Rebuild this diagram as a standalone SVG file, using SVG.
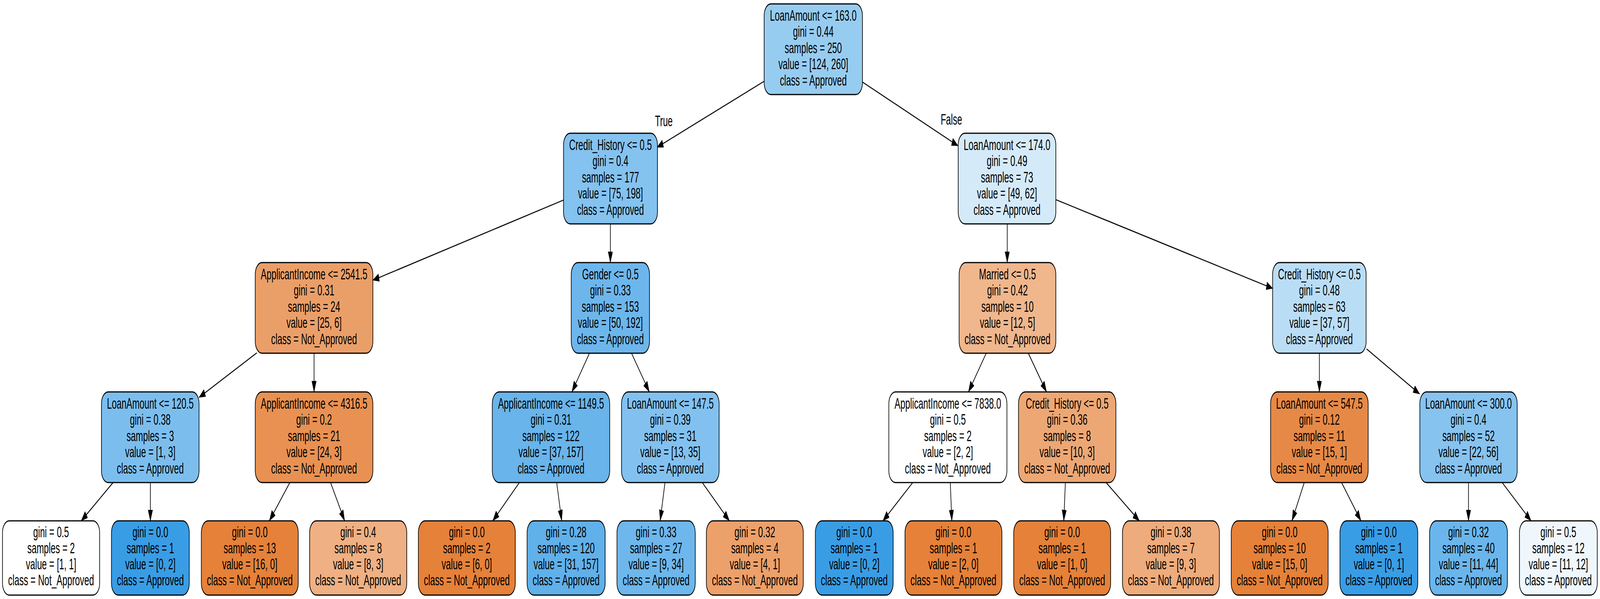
<svg xmlns="http://www.w3.org/2000/svg" width="7033" height="1533" viewBox="0 0 7033 1533" preserveAspectRatio="none">
<style>
svg:root{width:100vw;height:100vh}
.bg{fill:#ffffff}
.n rect{stroke:#000;stroke-width:2.8}
.t{font-family:"Liberation Sans",Arial,Helvetica,sans-serif;font-size:38.5px;text-anchor:middle;fill:#000}
.e line{stroke:#000;stroke-width:2.8;fill:none}
</style>
<defs>
<marker id="ah" markerUnits="userSpaceOnUse" markerWidth="30" markerHeight="22" refX="28" refY="10" orient="auto" viewBox="0 0 30 22">
<path d="M0,0 L28,10 L0,20 z" fill="#000" stroke="#000" stroke-width="1"/>
</marker>
</defs>
<rect class="bg" x="0" y="0" width="7033" height="1533"/>
<g id="edges" class="e">
<line x1="3359" y1="208" x2="2888" y2="377" marker-end="url(#ah)"/>
<line x1="3791" y1="210" x2="4211" y2="373" marker-end="url(#ah)"/>
<line x1="2477" y1="512" x2="1639" y2="717" marker-end="url(#ah)"/>
<line x1="2683" y1="573" x2="2683" y2="672" marker-end="url(#ah)"/>
<line x1="4427.5" y1="573" x2="4427.5" y2="672" marker-end="url(#ah)"/>
<line x1="4641" y1="511" x2="5594" y2="738" marker-end="url(#ah)"/>
<line x1="1129" y1="903" x2="875" y2="1017" marker-end="url(#ah)"/>
<line x1="1380.5" y1="904" x2="1380.5" y2="1003" marker-end="url(#ah)"/>
<line x1="2591" y1="904" x2="2514" y2="1003" marker-end="url(#ah)"/>
<line x1="2776" y1="904" x2="2854" y2="1003" marker-end="url(#ah)"/>
<line x1="4335" y1="904" x2="4257" y2="1003" marker-end="url(#ah)"/>
<line x1="4520" y1="904" x2="4600" y2="1003" marker-end="url(#ah)"/>
<line x1="5799.5" y1="904" x2="5799.5" y2="1003" marker-end="url(#ah)"/>
<line x1="6007" y1="893" x2="6240" y2="1008" marker-end="url(#ah)"/>
<line x1="497" y1="1235" x2="357" y2="1333" marker-end="url(#ah)"/>
<line x1="661" y1="1235" x2="661" y2="1333" marker-end="url(#ah)"/>
<line x1="1274" y1="1235" x2="1184" y2="1333" marker-end="url(#ah)"/>
<line x1="1453" y1="1235" x2="1515" y2="1333" marker-end="url(#ah)"/>
<line x1="2283" y1="1235" x2="2166" y2="1333" marker-end="url(#ah)"/>
<line x1="2447" y1="1235" x2="2469" y2="1333" marker-end="url(#ah)"/>
<line x1="2923" y1="1235" x2="2902" y2="1333" marker-end="url(#ah)"/>
<line x1="3087" y1="1235" x2="3206" y2="1333" marker-end="url(#ah)"/>
<line x1="4012" y1="1235" x2="3881" y2="1333" marker-end="url(#ah)"/>
<line x1="4177" y1="1235" x2="4184" y2="1333" marker-end="url(#ah)"/>
<line x1="4683" y1="1235" x2="4676" y2="1333" marker-end="url(#ah)"/>
<line x1="4862" y1="1235" x2="5008" y2="1333" marker-end="url(#ah)"/>
<line x1="5733" y1="1235" x2="5679" y2="1333" marker-end="url(#ah)"/>
<line x1="5897" y1="1235" x2="5982" y2="1333" marker-end="url(#ah)"/>
<line x1="6455" y1="1235" x2="6455" y2="1333" marker-end="url(#ah)"/>
<line x1="6603" y1="1235" x2="6730" y2="1333" marker-end="url(#ah)"/>
<text class="t" x="2918" y="323">True</text>
<text class="t" x="4182" y="319">False</text>
</g>

<g id="n0" class="n"><rect x="3359" y="10" width="432" height="232" rx="30" fill="#97ccf1"/>
<text class="t" y="53"><tspan x="3575">LoanAmount &lt;= 163.0</tspan><tspan x="3575" dy="41.5">gini = 0.44</tspan><tspan x="3575" dy="41.5">samples = 250</tspan><tspan x="3575" dy="41.5">value = [124, 260]</tspan><tspan x="3575" dy="41.5">class = Approved</tspan></text></g>

<g id="n1" class="n"><rect x="2477" y="341" width="413" height="232" rx="30" fill="#84c2ef"/>
<text class="t" y="384"><tspan x="2683.5">Credit_History &lt;= 0.5</tspan><tspan x="2683.5" dy="41.5">gini = 0.4</tspan><tspan x="2683.5" dy="41.5">samples = 177</tspan><tspan x="2683.5" dy="41.5">value = [75, 198]</tspan><tspan x="2683.5" dy="41.5">class = Approved</tspan></text></g>

<g id="n2" class="n"><rect x="4212" y="341" width="429" height="232" rx="30" fill="#d5eaf9"/>
<text class="t" y="384"><tspan x="4426.5">LoanAmount &lt;= 174.0</tspan><tspan x="4426.5" dy="41.5">gini = 0.49</tspan><tspan x="4426.5" dy="41.5">samples = 73</tspan><tspan x="4426.5" dy="41.5">value = [49, 62]</tspan><tspan x="4426.5" dy="41.5">class = Approved</tspan></text></g>

<g id="n3" class="n"><rect x="1122" y="672" width="517" height="232" rx="30" fill="#eb9f68"/>
<text class="t" y="715"><tspan x="1380.5">ApplicantIncome &lt;= 2541.5</tspan><tspan x="1380.5" dy="41.5">gini = 0.31</tspan><tspan x="1380.5" dy="41.5">samples = 24</tspan><tspan x="1380.5" dy="41.5">value = [25, 6]</tspan><tspan x="1380.5" dy="41.5">class = Not_Approved</tspan></text></g>

<g id="n4" class="n"><rect x="2511" y="672" width="344" height="232" rx="30" fill="#6db6ec"/>
<text class="t" y="715"><tspan x="2683">Gender &lt;= 0.5</tspan><tspan x="2683" dy="41.5">gini = 0.33</tspan><tspan x="2683" dy="41.5">samples = 153</tspan><tspan x="2683" dy="41.5">value = [50, 192]</tspan><tspan x="2683" dy="41.5">class = Approved</tspan></text></g>

<g id="n5" class="n"><rect x="4216" y="672" width="425" height="232" rx="30" fill="#f0b68c"/>
<text class="t" y="715"><tspan x="4428.5">Married &lt;= 0.5</tspan><tspan x="4428.5" dy="41.5">gini = 0.42</tspan><tspan x="4428.5" dy="41.5">samples = 10</tspan><tspan x="4428.5" dy="41.5">value = [12, 5]</tspan><tspan x="4428.5" dy="41.5">class = Not_Approved</tspan></text></g>

<g id="n6" class="n"><rect x="5594" y="672" width="411" height="232" rx="30" fill="#baddf6"/>
<text class="t" y="715"><tspan x="5799.5">Credit_History &lt;= 0.5</tspan><tspan x="5799.5" dy="41.5">gini = 0.48</tspan><tspan x="5799.5" dy="41.5">samples = 63</tspan><tspan x="5799.5" dy="41.5">value = [37, 57]</tspan><tspan x="5799.5" dy="41.5">class = Approved</tspan></text></g>

<g id="n7" class="n"><rect x="446" y="1003" width="429" height="232" rx="30" fill="#7bbeee"/>
<text class="t" y="1046"><tspan x="660.5">LoanAmount &lt;= 120.5</tspan><tspan x="660.5" dy="41.5">gini = 0.38</tspan><tspan x="660.5" dy="41.5">samples = 3</tspan><tspan x="660.5" dy="41.5">value = [1, 3]</tspan><tspan x="660.5" dy="41.5">class = Approved</tspan></text></g>

<g id="n8" class="n"><rect x="1122" y="1003" width="517" height="232" rx="30" fill="#e89152"/>
<text class="t" y="1046"><tspan x="1380.5">ApplicantIncome &lt;= 4316.5</tspan><tspan x="1380.5" dy="41.5">gini = 0.2</tspan><tspan x="1380.5" dy="41.5">samples = 21</tspan><tspan x="1380.5" dy="41.5">value = [24, 3]</tspan><tspan x="1380.5" dy="41.5">class = Not_Approved</tspan></text></g>

<g id="n9" class="n"><rect x="2164" y="1003" width="516" height="232" rx="30" fill="#68b4eb"/>
<text class="t" y="1046"><tspan x="2422">ApplicantIncome &lt;= 1149.5</tspan><tspan x="2422" dy="41.5">gini = 0.31</tspan><tspan x="2422" dy="41.5">samples = 122</tspan><tspan x="2422" dy="41.5">value = [37, 157]</tspan><tspan x="2422" dy="41.5">class = Approved</tspan></text></g>

<g id="n10" class="n"><rect x="2732" y="1003" width="429" height="232" rx="30" fill="#82c1ef"/>
<text class="t" y="1046"><tspan x="2946.5">LoanAmount &lt;= 147.5</tspan><tspan x="2946.5" dy="41.5">gini = 0.39</tspan><tspan x="2946.5" dy="41.5">samples = 31</tspan><tspan x="2946.5" dy="41.5">value = [13, 35]</tspan><tspan x="2946.5" dy="41.5">class = Approved</tspan></text></g>

<g id="n11" class="n"><rect x="3907" y="1003" width="519" height="232" rx="30" fill="#ffffff"/>
<text class="t" y="1046"><tspan x="4166.5">ApplicantIncome &lt;= 7838.0</tspan><tspan x="4166.5" dy="41.5">gini = 0.5</tspan><tspan x="4166.5" dy="41.5">samples = 2</tspan><tspan x="4166.5" dy="41.5">value = [2, 2]</tspan><tspan x="4166.5" dy="41.5">class = Not_Approved</tspan></text></g>

<g id="n12" class="n"><rect x="4477" y="1003" width="428" height="232" rx="30" fill="#eda774"/>
<text class="t" y="1046"><tspan x="4691">Credit_History &lt;= 0.5</tspan><tspan x="4691" dy="41.5">gini = 0.36</tspan><tspan x="4691" dy="41.5">samples = 8</tspan><tspan x="4691" dy="41.5">value = [10, 3]</tspan><tspan x="4691" dy="41.5">class = Not_Approved</tspan></text></g>

<g id="n13" class="n"><rect x="5585" y="1003" width="429" height="232" rx="30" fill="#e78946"/>
<text class="t" y="1046"><tspan x="5799.5">LoanAmount &lt;= 547.5</tspan><tspan x="5799.5" dy="41.5">gini = 0.12</tspan><tspan x="5799.5" dy="41.5">samples = 11</tspan><tspan x="5799.5" dy="41.5">value = [15, 1]</tspan><tspan x="5799.5" dy="41.5">class = Not_Approved</tspan></text></g>

<g id="n14" class="n"><rect x="6241" y="1003" width="428" height="232" rx="30" fill="#87c3ef"/>
<text class="t" y="1046"><tspan x="6455">LoanAmount &lt;= 300.0</tspan><tspan x="6455" dy="41.5">gini = 0.4</tspan><tspan x="6455" dy="41.5">samples = 52</tspan><tspan x="6455" dy="41.5">value = [22, 56]</tspan><tspan x="6455" dy="41.5">class = Approved</tspan></text></g>

<g id="l1" class="n"><rect x="11" y="1333" width="427" height="190" rx="30" fill="#ffffff"/>
<text class="t" y="1375"><tspan x="224.5">gini = 0.5</tspan><tspan x="224.5" dy="41">samples = 2</tspan><tspan x="224.5" dy="41">value = [1, 1]</tspan><tspan x="224.5" dy="41">class = Not_Approved</tspan></text></g>

<g id="l2" class="n"><rect x="490" y="1333" width="342" height="190" rx="30" fill="#399de5"/>
<text class="t" y="1375"><tspan x="661">gini = 0.0</tspan><tspan x="661" dy="41">samples = 1</tspan><tspan x="661" dy="41">value = [0, 2]</tspan><tspan x="661" dy="41">class = Approved</tspan></text></g>

<g id="l3" class="n"><rect x="885" y="1333" width="426" height="190" rx="30" fill="#e58139"/>
<text class="t" y="1375"><tspan x="1098">gini = 0.0</tspan><tspan x="1098" dy="41">samples = 13</tspan><tspan x="1098" dy="41">value = [16, 0]</tspan><tspan x="1098" dy="41">class = Not_Approved</tspan></text></g>

<g id="l4" class="n"><rect x="1361" y="1333" width="427" height="190" rx="30" fill="#efb083"/>
<text class="t" y="1375"><tspan x="1574.5">gini = 0.4</tspan><tspan x="1574.5" dy="41">samples = 8</tspan><tspan x="1574.5" dy="41">value = [8, 3]</tspan><tspan x="1574.5" dy="41">class = Not_Approved</tspan></text></g>

<g id="l5" class="n"><rect x="1839" y="1333" width="426" height="190" rx="30" fill="#e58139"/>
<text class="t" y="1375"><tspan x="2052">gini = 0.0</tspan><tspan x="2052" dy="41">samples = 2</tspan><tspan x="2052" dy="41">value = [6, 0]</tspan><tspan x="2052" dy="41">class = Not_Approved</tspan></text></g>

<g id="l6" class="n"><rect x="2317" y="1333" width="343" height="190" rx="30" fill="#60b0ea"/>
<text class="t" y="1375"><tspan x="2488.5">gini = 0.28</tspan><tspan x="2488.5" dy="41">samples = 120</tspan><tspan x="2488.5" dy="41">value = [31, 157]</tspan><tspan x="2488.5" dy="41">class = Approved</tspan></text></g>

<g id="l7" class="n"><rect x="2712" y="1333" width="344" height="190" rx="30" fill="#6db7ec"/>
<text class="t" y="1375"><tspan x="2884">gini = 0.33</tspan><tspan x="2884" dy="41">samples = 27</tspan><tspan x="2884" dy="41">value = [9, 34]</tspan><tspan x="2884" dy="41">class = Approved</tspan></text></g>

<g id="l8" class="n"><rect x="3105" y="1333" width="426" height="190" rx="30" fill="#eca06a"/>
<text class="t" y="1375"><tspan x="3318">gini = 0.32</tspan><tspan x="3318" dy="41">samples = 4</tspan><tspan x="3318" dy="41">value = [4, 1]</tspan><tspan x="3318" dy="41">class = Not_Approved</tspan></text></g>

<g id="l9" class="n"><rect x="3584" y="1333" width="342" height="190" rx="30" fill="#399de5"/>
<text class="t" y="1375"><tspan x="3755">gini = 0.0</tspan><tspan x="3755" dy="41">samples = 1</tspan><tspan x="3755" dy="41">value = [0, 2]</tspan><tspan x="3755" dy="41">class = Approved</tspan></text></g>

<g id="l10" class="n"><rect x="3978" y="1333" width="426" height="190" rx="30" fill="#e58139"/>
<text class="t" y="1375"><tspan x="4191">gini = 0.0</tspan><tspan x="4191" dy="41">samples = 1</tspan><tspan x="4191" dy="41">value = [2, 0]</tspan><tspan x="4191" dy="41">class = Not_Approved</tspan></text></g>

<g id="l11" class="n"><rect x="4456" y="1333" width="426" height="190" rx="30" fill="#e58139"/>
<text class="t" y="1375"><tspan x="4669">gini = 0.0</tspan><tspan x="4669" dy="41">samples = 1</tspan><tspan x="4669" dy="41">value = [1, 0]</tspan><tspan x="4669" dy="41">class = Not_Approved</tspan></text></g>

<g id="l12" class="n"><rect x="4934" y="1333" width="426" height="190" rx="30" fill="#eeab7b"/>
<text class="t" y="1375"><tspan x="5147">gini = 0.38</tspan><tspan x="5147" dy="41">samples = 7</tspan><tspan x="5147" dy="41">value = [9, 3]</tspan><tspan x="5147" dy="41">class = Not_Approved</tspan></text></g>

<g id="l13" class="n"><rect x="5412" y="1333" width="426" height="190" rx="30" fill="#e58139"/>
<text class="t" y="1375"><tspan x="5625">gini = 0.0</tspan><tspan x="5625" dy="41">samples = 10</tspan><tspan x="5625" dy="41">value = [15, 0]</tspan><tspan x="5625" dy="41">class = Not_Approved</tspan></text></g>

<g id="l14" class="n"><rect x="5890" y="1333" width="342" height="190" rx="30" fill="#399de5"/>
<text class="t" y="1375"><tspan x="6061">gini = 0.0</tspan><tspan x="6061" dy="41">samples = 1</tspan><tspan x="6061" dy="41">value = [0, 1]</tspan><tspan x="6061" dy="41">class = Approved</tspan></text></g>

<g id="l15" class="n"><rect x="6284" y="1333" width="342" height="190" rx="30" fill="#6ab6ec"/>
<text class="t" y="1375"><tspan x="6455">gini = 0.32</tspan><tspan x="6455" dy="41">samples = 40</tspan><tspan x="6455" dy="41">value = [11, 44]</tspan><tspan x="6455" dy="41">class = Approved</tspan></text></g>

<g id="l16" class="n"><rect x="6679" y="1333" width="342" height="190" rx="30" fill="#eff7fd"/>
<text class="t" y="1375"><tspan x="6850">gini = 0.5</tspan><tspan x="6850" dy="41">samples = 12</tspan><tspan x="6850" dy="41">value = [11, 12]</tspan><tspan x="6850" dy="41">class = Approved</tspan></text></g>
</svg>
